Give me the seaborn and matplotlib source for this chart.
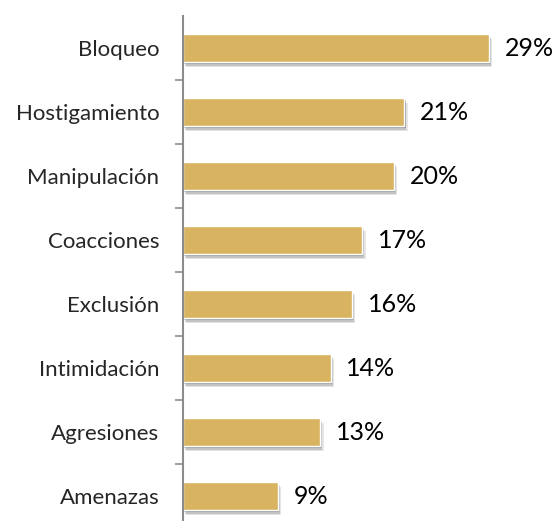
import numpy as np
import pandas as pd
import matplotlib
matplotlib.use("Agg")
import matplotlib.pyplot as plt
import matplotlib.patheffects as pe
from matplotlib.ticker import FixedLocator
import seaborn as sns

categories = ["Bloqueo", "Hostigamiento", "Manipulación", "Coacciones",
              "Exclusión", "Intimidación", "Agresiones", "Amenazas"]
values = [29, 21, 20, 17, 16, 14, 13, 9]

df = pd.DataFrame({"cat": categories, "val": values})

sns.set_style("white")
plt.rcParams["font.family"] = ["Lato", "DejaVu Sans"]

fig = plt.figure(figsize=(5.58, 5.21), dpi=100)
ax = fig.add_axes([183 / 558, 0, (552 - 183) / 558, 505 / 521])

sns.barplot(data=df, x="val", y="cat", orient="h", color="#D8B461",
            saturation=1, width=0.44, ax=ax)

# soft drop shadow under each bar
for p in ax.patches:
    p.set_path_effects([
        pe.SimplePatchShadow(offset=(2.5, -3.5), alpha=0.10, shadow_rgbFace="#000000"),
        pe.SimplePatchShadow(offset=(1.5, -2.5), alpha=0.15, shadow_rgbFace="#000000"),
        pe.SimplePatchShadow(offset=(0.8, -1.5), alpha=0.2, shadow_rgbFace="#000000"),
        pe.Normal()])

for i, v in enumerate(values):
    ax.text(v + 1.5, i, f"{v}%", va="center", ha="left", fontsize=18, color="#000000")

ax.set_xlim(0, 35)
ax.set_ylim(-0.5 + 505 / 64, -0.5)
ax.set_xlabel("")
ax.set_ylabel("")
ax.set_xticks([])
for s in ["top", "right", "bottom"]:
    ax.spines[s].set_visible(False)
ax.spines["left"].set_color("#8c8c8c")
ax.spines["left"].set_linewidth(1.5)

ax.yaxis.set_minor_locator(FixedLocator(np.arange(0.5, len(categories) - 0.5, 1)))
ax.tick_params(axis="y", which="major", length=0, pad=17, labelsize=16)
ax.tick_params(axis="y", which="minor", length=6, width=1.2, color="#8c8c8c", left=True)

fig.savefig("out.png", dpi=100)
